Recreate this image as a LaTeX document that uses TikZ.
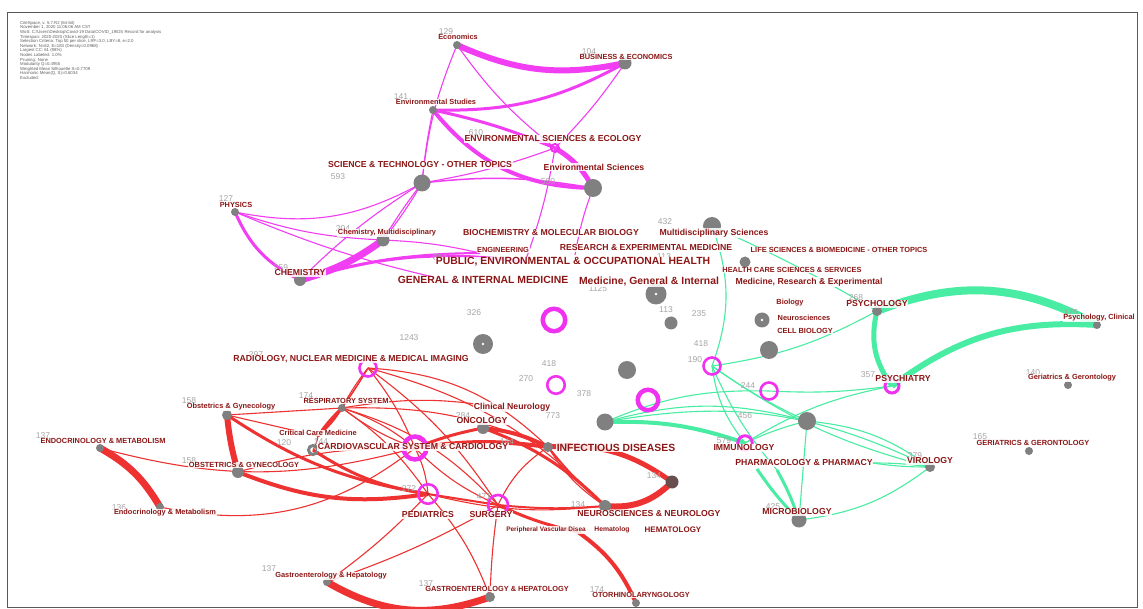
\documentclass[tikz,border=0pt]{standalone}
\usepackage{fontspec}
\setmainfont{Liberation Sans}
\definecolor{lblc}{RGB}{140,22,22}
\definecolor{pec}{RGB}{242,62,242}
\definecolor{gec}{RGB}{72,236,162}
\definecolor{rec}{RGB}{238,50,50}
\definecolor{gnc}{RGB}{128,128,128}
\definecolor{pkc}{RGB}{240,50,240}
\definecolor{numc}{RGB}{165,165,165}
\definecolor{infoc}{RGB}{95,95,95}
\definecolor{dkc}{RGB}{105,78,78}
\tikzset{
  lab/.style={font=\bfseries\fontsize{7.4}{8}\selectfont, text=lblc, fill=white, fill opacity=0.85, text opacity=1, inner sep=0.6pt},
  labs/.style={lab, font=\bfseries\fontsize{6.5}{7}\selectfont},
  labm/.style={lab, font=\bfseries\fontsize{8.7}{9}\selectfont},
  labb/.style={lab, font=\bfseries\fontsize{10.4}{11}\selectfont},
  nm/.style={font=\fontsize{8.5}{9}\selectfont, text=numc, inner sep=0pt},
  pE/.style={draw=pec, line width=1.1pt},
  gE/.style={draw=gec, line width=1.1pt},
  rE/.style={draw=rec, line width=1.1pt},
  gd/.style={circle, fill=gnc, inner sep=0pt, minimum size=#1},
  rg/.style={circle, draw=pkc, inner sep=0pt, line width=2.6pt, minimum size=#1},
  rgt/.style={circle, draw=pkc, inner sep=0pt, line width=4.5pt, minimum size=#1},
  wd/.style={circle, fill=white, inner sep=0pt, minimum size=2.6pt}
}
\begin{document}
\begin{tikzpicture}[x=1pt,y=-1pt]
\useasboundingbox (0,0) rectangle (1143,609);
\fill[white] (0,0) rectangle (1143,609);
\draw[gray!70!black, line width=0.9pt] (7,12) rectangle (1137,607);
\node[anchor=north west, align=left, inner sep=0pt, text=infoc, font=\fontsize{4.3}{4.6}\selectfont] (info) at (20,21) {%
CiteSpace, v. 5.7.R2 (64-bit)\\
November 1, 2020 11:06:06 AM CST\\
WoS: C:\textbackslash Users\textbackslash Desktop\textbackslash Covid-19 Data\textbackslash COVID\_19\textbackslash DS Record for analysis\\
Timespan: 2020-2020 (Slice Length=1)\\
Selection Criteria: Top 50 per slice, LRF=3.0, LBY=8, e=2.0\\
Network: N=62, E=183 (Density=0.0968)\\
Largest CC: 61 (98\%)\\
Nodes Labeled: 1.0\%\\
Pruning: None\\
Modularity Q=0.4955\\
Weighted Mean Silhouette S=0.7709\\
Harmonic Mean(Q, S)=0.6034\\
Excluded:};

% ---------- coordinates ----------
\coordinate (econ) at (457,45);
\coordinate (bus) at (625,63);
\coordinate (envstud) at (433,110);
\coordinate (ese) at (555,148);
\coordinate (scitech) at (422,183);
\coordinate (envsci) at (593,188);
\coordinate (phys) at (235,212);
\coordinate (chemmulti) at (383,240);
\coordinate (chem) at (300,280);
\coordinate (pubh) at (525,262);
\coordinate (genmed) at (455,282);
\coordinate (engin) at (480,253);
\coordinate (research) at (575,255);

\coordinate (multisci) at (712,226);
\coordinate (hcs) at (745,262);
\coordinate (medgen) at (656,294);
\coordinate (g671) at (671,323);
\coordinate (biol) at (762,320);
\coordinate (g769) at (769,350);
\coordinate (r190) at (712,366);
\coordinate (r244) at (769,391);
\coordinate (g807) at (807,421);
\coordinate (immu) at (745,443);
\coordinate (psychiatry) at (892,386);
\coordinate (psych) at (877,311);
\coordinate (psyclin) at (1097,325);
\coordinate (geri1) at (1068,385);
\coordinate (geri2) at (1029,451);
\coordinate (viro) at (930,467);
\coordinate (micro) at (799,520);
\coordinate (pha) at (757,469);
\coordinate (phb) at (777,470);
\coordinate (phc) at (872,463);
\coordinate (rbig) at (648,400);
\coordinate (g605) at (605,422);
\coordinate (g628) at (627,370);
\coordinate (r556) at (556,385);
\coordinate (rbig2) at (554,320);
\coordinate (g483) at (483,344);

\coordinate (radio) at (368,368);
\coordinate (resp) at (342,408);
\coordinate (obs1) at (227,415);
\coordinate (crit) at (318,436);
\coordinate (g120) at (313,450);
\coordinate (cardio) at (415,448);
\coordinate (endo1) at (100,448);
\coordinate (obs2) at (238,472);
\coordinate (endo2) at (160,507);
\coordinate (onc) at (483,428);
\coordinate (clin) at (512,410);
\coordinate (infect) at (548,447);
\coordinate (ped) at (428,494);
\coordinate (surg) at (498,505);
\coordinate (neuro) at (605,506);
\coordinate (g672) at (672,482);
\coordinate (hemat) at (578,532);
\coordinate (gastro1) at (327,582);
\coordinate (gastro2) at (490,597);
\coordinate (otor) at (636,603);

% ---------- magenta edges ----------
\draw[pE, line width=6pt] (econ) to[bend right=18] (bus);
\draw[pE] (econ) to[bend right=8] (scitech);
\draw[pE] (econ) to[bend right=8] (ese);
\draw[pE, line width=3pt] (bus) to[bend left=15] (envstud);
\draw[pE] (bus) to[bend left=5] (ese);
\draw[pE, line width=4pt] (envstud) to[bend right=25] (envsci);
\draw[pE, line width=3pt] (envstud) to[bend left=5] (ese);
\draw[pE] (envstud) to[bend right=3] (scitech);
\draw[pE] (ese) to[bend left=5] (scitech);
\draw[pE, line width=1.5pt] (scitech) to[bend left=8] (envsci);
\draw[pE, line width=5pt] (ese) to[bend left=15] (envsci);
\draw[pE] (ese) to[bend left=5] (pubh);
\draw[pE] (envsci) to[bend right=5] (research);
\draw[pE] (scitech) to[bend right=3] (chemmulti);
\draw[pE] (scitech) to[bend left=4] (chemmulti);
\draw[pE] (scitech) to[bend right=6] (chem);
\draw[pE] (phys) to[bend right=20] (scitech);
\draw[pE, line width=3pt] (phys) to[bend right=20] (chem);
\draw[pE] (phys) to[bend right=8] (chemmulti);
\draw[pE] (phys) to[bend right=5] (genmed);
\draw[pE, line width=7pt] (chemmulti) to[bend left=10] (chem);
\draw[pE, line width=3pt] (chem) to[bend left=12] (pubh);
\draw[pE, line width=2pt] (chem) to[bend left=8] (engin);
\draw[pE] (chem) to[bend right=5] (chemmulti);
\draw[pE] (chemmulti) to[bend left=5] (engin);

% ---------- green edges ----------
\draw[gE] (multisci) to[bend left=3] (psych);
\draw[gE] (multisci) to[bend left=20] (r190);
\draw[gE] (psych) to[bend left=10] (r190);
\draw[gE, line width=5pt] (psych) to[bend right=25] (psychiatry);
\draw[gE, line width=8pt] (psych) to[bend left=25] (psyclin);
\draw[gE, line width=6pt] (psychiatry) to[bend left=20] (psyclin);
\draw[gE] (psychiatry) to[bend left=5] (r244);
\draw[gE] (psychiatry) to[bend right=10] (immu);
\draw[gE] (r190) to[bend right=15] (immu);
\draw[gE] (r190) to[bend right=5] (g807);
\draw[gE] (r190) to[bend right=10] (viro);
\draw[gE] (r190) to[bend right=8] (phb);
\draw[gE, line width=4pt] (g605) to[bend left=10] (immu);
\draw[gE] (g605) to[bend left=15] (g807);
\draw[gE] (g605) to[bend left=18] (viro);
\draw[gE] (g605) to[bend left=12] (r244);
\draw[gE] (g807) to[bend left=15] (viro);
\draw[gE] (g807) -- (micro);
\draw[gE] (immu) to[bend left=5] (g807);
\draw[gE, line width=3pt] (pha) to[bend right=5] (micro);
\draw[gE, line width=3pt] (phb) to[bend left=5] (micro);
\draw[gE] (micro) to[bend right=15] (viro);
\draw[gE] (phc) to[bend left=4] (viro);
\draw[gE] (phc) to[bend right=4] (viro);

% ---------- red edges ----------
\draw[rE] (radio) to[bend right=5] (resp);
\draw[rE] (radio) to[bend left=3] (resp);
\draw[rE] (radio) to[bend left=5] (crit);
\draw[rE] (radio) to[bend left=8] (cardio);
\draw[rE] (radio) to[bend left=10] (surg);
\draw[rE] (radio) to[bend left=15] (neuro);
\draw[rE] (radio) to[bend left=20] (infect);
\draw[rE, line width=6pt] (obs1) to[bend right=5] (obs2);
\draw[rE, line width=7pt] (endo1) to[bend left=15] (endo2);
\draw[rE] (endo1) to[bend right=15] (cardio);
\draw[rE] (endo2) to[bend right=25] (cardio);
\draw[rE] (obs1) -- (crit);
\draw[rE, line width=3pt] (obs1) to[bend right=12] (ped);
\draw[rE, line width=4pt] (obs2) to[bend right=15] (ped);
\draw[rE] (obs2) to[bend left=8] (cardio);
\draw[rE] (obs1) -- (resp);
\draw[rE, line width=3pt] (resp) to[bend right=5] (crit);
\draw[rE, line width=2pt] (resp) to[bend left=8] (crit);
\draw[rE] (resp) to[bend left=10] (cardio);
\draw[rE] (resp) to[bend right=8] (cardio);
\draw[rE] (resp) to[bend left=10] (ped);
\draw[rE] (resp) to[bend left=15] (surg);
\draw[rE] (resp) to[bend left=10] (clin);
\draw[rE] (resp) to[bend left=12] (infect);
\draw[rE, line width=3pt] (g120) to[bend right=12] (ped);
\draw[rE] (crit) to[bend left=10] (g120);
\draw[rE, line width=4pt] (cardio) to[bend left=8] (infect);
\draw[rE, line width=4pt] (onc) to[bend left=10] (infect);
\draw[rE, line width=3pt] (cardio) to[bend left=5] (onc);
\draw[rE, line width=3pt] (onc) to[bend left=12] (neuro);
\draw[rE, line width=5pt] (infect) to[bend left=20] (g672);
\draw[rE, line width=6pt] (g672) to[bend left=25] (neuro);
\draw[rE] (surg) to[bend left=15] (infect);
\draw[rE, line width=2pt] (infect) to[bend right=5] (neuro);
\draw[rE] (infect) to[bend right=12] (neuro);
\draw[rE] (cardio) to[bend right=10] (surg);
\draw[rE] (cardio) to[bend left=10] (ped);
\draw[rE, line width=2pt] (ped) -- (surg);
\draw[rE] (ped) to[bend right=10] (neuro);
\draw[rE, line width=2pt] (surg) to[bend right=5] (neuro);
\draw[rE, line width=3pt] (surg) to[bend right=6] (hemat);
\draw[rE, line width=4pt] (hemat) to[bend left=15] (otor);
\draw[rE, line width=7pt] (gastro1) to[bend right=25] (gastro2);
\draw[rE] (ped) to[bend left=5] (gastro1);
\draw[rE] (surg) to[bend left=5] (gastro1);
\draw[rE] (ped) to[bend left=10] (gastro2);
\draw[rE] (surg) to[bend right=3] (gastro2);

% ---------- markers ----------
\node[gd=8] (m-econ) at (econ) {};
\node[gd=13] (m-bus) at (bus) {};
\node[gd=8] (m-envstud) at (envstud) {};
\node[rg=8, line width=2pt] (m-ese) at (ese) {};
\node[gd=17] (m-scitech) at (scitech) {};
\node[gd=18] (m-envsci) at (envsci) {};
\node[gd=8] (m-phys) at (phys) {};
\node[gd=13] (m-chemmulti) at (chemmulti) {};
\node[gd=12] (m-chem) at (chem) {};
\node[gd=18] (m-multisci) at (multisci) {};
\node[gd=11] (m-hcs) at (hcs) {};
\node[gd=21] (m-medgen) at (medgen) {};
\node[wd] (w-medgen) at (medgen) {};
\node[gd=13] (m-g671) at (g671) {};
\node[gd=15] (m-biol) at (biol) {};
\node[wd] (w-biol) at (biol) {};
\node[gd=18] (m-g769) at (g769) {};
\node[rg=17] (m-r190) at (r190) {};
\node[rg=17] (m-r244) at (r244) {};
\node[gd=18] (m-g807) at (g807) {};
\node[rg=14.5, line width=3pt] (m-immu) at (immu) {};
\node[rg=14, line width=3pt] (m-psychiatry) at (psychiatry) {};
\node[gd=10] (m-psych) at (psych) {};
\node[gd=8] (m-psyclin) at (psyclin) {};
\node[gd=8] (m-geri1) at (geri1) {};
\node[gd=8] (m-geri2) at (geri2) {};
\node[gd=10] (m-viro) at (viro) {};
\node[gd=15] (m-micro) at (micro) {};
\node[rgt=20.5] (m-rbig) at (rbig) {};
\node[gd=17] (m-g605) at (g605) {};
\node[gd=18] (m-g628) at (g628) {};
\node[rg=17.5] (m-r556) at (r556) {};
\node[rgt=22.5] (m-rbig2) at (rbig2) {};
\node[gd=20] (m-g483) at (g483) {};
\node[wd] (w-g483) at (g483) {};
\node[rg=17] (m-radio) at (radio) {};
\node[gd=8] (m-resp) at (resp) {};
\node[gd=10] (m-obs1) at (obs1) {};
\node[circle, draw=gnc, line width=3pt, inner sep=0pt, minimum size=9pt] (m-g120) at (g120) {};
\node[rgt=23] (m-cardio) at (cardio) {};
\node[gd=8] (m-endo1) at (endo1) {};
\node[gd=12] (m-obs2) at (obs2) {};
\node[gd=8] (m-endo2) at (endo2) {};
\node[gd=12] (m-onc) at (onc) {};
\node[gd=10] (m-infect) at (infect) {};
\node[rg=19.5] (m-ped) at (ped) {};
\node[circle, fill=rec!80!black, inner sep=0pt, minimum size=3pt] (d-ped) at (ped) {};
\node[rg=20] (m-surg) at (surg) {};
\node[gd=12] (m-neuro) at (neuro) {};
\node[circle, fill=dkc, inner sep=0pt, minimum size=13pt] (m-g672) at (g672) {};
\node[gd=8] (m-gastro1) at (gastro1) {};
\node[gd=10] (m-gastro2) at (gastro2) {};
\node[gd=8] (m-otor) at (otor) {};

% ---------- numbers ----------
\node[nm] (n1) at (446,32) {129};
\node[nm] (n2) at (589,52) {104};
\node[nm] (n3) at (401,97) {141};
\node[nm] (n4) at (476,133) {610};
\node[nm] (n5) at (338,177) {593};
\node[nm] (n6) at (548,182) {550};
\node[nm] (n7) at (226,199) {127};
\node[nm] (n8) at (343,229) {204};
\node[nm] (n9) at (281,268) {259};
\node[nm] (n10) at (440,258) {654};
\node[nm] (n11) at (481,263) {113};
\node[nm] (n12) at (664,257) {113};
\node[nm] (n13) at (598,289) {1125};
\node[nm] (n14) at (474,313) {326};
\node[nm] (n15) at (665,222) {432};
\node[nm] (n16) at (666,310) {113};
\node[nm] (n17) at (699,314) {235};
\node[nm] (n18) at (701,344) {418};
\node[nm] (n19) at (409,338) {1243};
\node[nm] (n20) at (549,364) {418};
\node[nm] (n21) at (526,379) {270};
\node[nm] (n22) at (584,394) {378};
\node[nm] (n23) at (553,416) {773};
\node[nm] (n24) at (695,360) {190};
\node[nm] (n25) at (748,386) {244};
\node[nm] (n26) at (745,416) {456};
\node[nm] (n27) at (724,441) {579};
\node[nm] (n28) at (868,375) {357};
\node[nm] (n29) at (915,456) {379};
\node[nm] (n30) at (773,507) {425};
\node[nm] (n31) at (654,476) {134};
\node[nm] (n32) at (856,298) {268};
\node[nm] (n33) at (1071,313) {175};
\node[nm] (n34) at (1033,373) {140};
\node[nm] (n35) at (980,437) {165};
\node[nm] (n36) at (256,355) {297};
\node[nm] (n37) at (306,396) {174};
\node[nm] (n38) at (189,401) {158};
\node[nm] (n39) at (284,443) {120};
\node[nm] (n40) at (321,442) {144};
\node[nm] (n41) at (43,436) {137};
\node[nm] (n42) at (189,461) {158};
\node[nm] (n43) at (119,508) {136};
\node[nm] (n44) at (463,416) {284};
\node[nm] (n45) at (507,442) {144};
\node[nm] (n46) at (409,489) {272};
\node[nm] (n47) at (484,497) {471};
\node[nm] (n48) at (578,505) {134};
\node[nm] (n49) at (269,569) {137};
\node[nm] (n50) at (426,584) {137};
\node[nm] (n51) at (597,590) {174};

% ---------- labels ----------
\node[lab] (l-econ) at (458,37) {Economics};
\node[lab] (l-bus) at (626,57) {BUSINESS \& ECONOMICS};
\node[lab] (l-envstud) at (436,102) {Environmental Studies};
\node[labm] (l-ese) at (553,139) {ENVIRONMENTAL SCIENCES \& ECOLOGY};
\node[labm] (l-scitech) at (420,165) {SCIENCE \& TECHNOLOGY - OTHER TOPICS};
\node[labm] (l-envsci) at (594,167) {Environmental Sciences};
\node[lab] (l-phys) at (236,205) {PHYSICS};
\node[lab] (l-chemmulti) at (387,233) {Chemistry, Multidisciplinary};
\node[labm] (l-chem) at (300,273) {CHEMISTRY};
\node[labm] (l-biochem) at (551,233) {BIOCHEMISTRY \& MOLECULAR BIOLOGY};
\node[lab] (l-engin) at (503,250) {ENGINEERING};
\node[labm] (l-research) at (646,248) {RESEARCH \& EXPERIMENTAL MEDICINE};
\node[labb] (l-pubh) at (573,262) {PUBLIC, ENVIRONMENTAL \& OCCUPATIONAL HEALTH};
\node[labb] (l-genmed) at (483,280) {GENERAL \& INTERNAL MEDICINE};
\node[labb] (l-medgen) at (649,282) {Medicine, General \& Internal};
\node[labm] (l-multisci) at (714,233) {Multidisciplinary Sciences};
\node[lab] (l-life) at (839,250) {LIFE SCIENCES \& BIOMEDICINE - OTHER TOPICS};
\node[lab] (l-hcs) at (792,270) {HEALTH CARE SCIENCES \& SERVICES};
\node[labm] (l-medres) at (809,282) {Medicine, Research \& Experimental};
\node[lab] (l-biol) at (790,303) {Biology};
\node[lab] (l-neurosci) at (804,318) {Neurosciences};
\node[lab] (l-cellbio) at (805,331) {CELL BIOLOGY};
\node[labm] (l-psych) at (877,304) {PSYCHOLOGY};
\node[lab] (l-psyclin) at (1099,318) {Psychology, Clinical};
\node[labm] (l-psychiatry) at (903,379) {PSYCHIATRY};
\node[lab] (l-geri1) at (1072,378) {Geriatrics \& Gerontology};
\node[lab] (l-geri2) at (1033,443) {GERIATRICS \& GERONTOLOGY};
\node[labm] (l-viro) at (930,461) {VIROLOGY};
\node[labm] (l-pharm) at (804,463) {PHARMACOLOGY \& PHARMACY};
\node[labm] (l-immu) at (744,448) {IMMUNOLOGY};
\node[labm] (l-micro) at (797,512) {MICROBIOLOGY};
\node[labm] (l-radio) at (351,359) {RADIOLOGY, NUCLEAR MEDICINE \& MEDICAL IMAGING};
\node[lab] (l-resp) at (346,401) {RESPIRATORY SYSTEM};
\node[lab] (l-obs1) at (231,407) {Obstetrics \& Gynecology};
\node[lab] (l-crit) at (318,433) {Critical Care Medicine};
\node[labm] (l-clin) at (512,407) {Clinical Neurology};
\node[labm] (l-onc) at (482,421) {ONCOLOGY};
\node[lab] (l-endo1) at (103,441) {ENDOCRINOLOGY \& METABOLISM};
\node[labm] (l-cardio) at (413,447) {CARDIOVASCULAR SYSTEM \& CARDIOLOGY};
\node[labb] (l-infect) at (616,448) {INFECTIOUS DISEASES};
\node[lab] (l-obs2) at (244,465) {OBSTETRICS \& GYNECOLOGY};
\node[lab] (l-endo2) at (165,513) {Endocrinology \& Metabolism};
\node[labm] (l-ped) at (428,515) {PEDIATRICS};
\node[labm] (l-surg) at (491,515) {SURGERY};
\node[labm] (l-neuro) at (649,514) {NEUROSCIENCES \& NEUROLOGY};
\node[labs] (l-perip) at (546,530) {Peripheral Vascular Disea};
\node[lab, font=\bfseries\fontsize{6.8}{7}\selectfont] (l-hemat) at (612,530) {Hematolog};
\node[lab, font=\bfseries\fontsize{8}{8}\selectfont] (l-hema2) at (673,530) {HEMATOLOGY};
\node[lab] (l-gastro1) at (331,576) {Gastroenterology \& Hepatology};
\node[lab] (l-gastro2) at (497,589) {GASTROENTEROLOGY \& HEPATOLOGY};
\node[lab] (l-otor) at (641,595) {OTORHINOLARYNGOLOGY};
\end{tikzpicture}
\end{document}
